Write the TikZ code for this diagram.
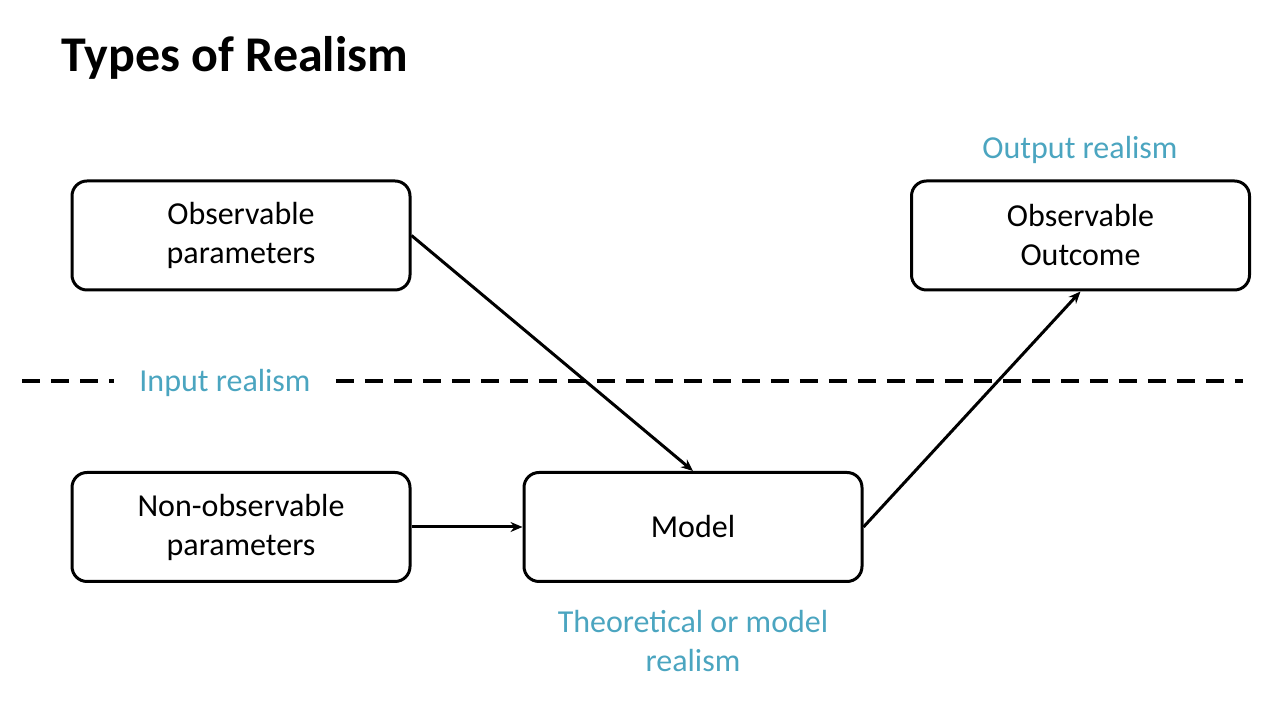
\documentclass[tikz,border=0pt]{standalone}
\usepackage{fontspec}
\setmainfont{Carlito}
\usetikzlibrary{arrows.meta,positioning}
\definecolor{realblue}{RGB}{75,165,192}

\begin{document}
\begin{tikzpicture}[x=1pt,y=1pt,
    stage/.style={draw, line width=3pt, rounded corners=15pt, minimum width=338pt,
        minimum height=109pt, align=center, font=\fontsize{32}{39}\selectfont},
    realism/.style={text=realblue, align=center, font=\fontsize{32}{39}\selectfont},
    flow/.style={line width=3pt, -{Stealth[length=12pt,width=10pt]}},
    split/.style={line width=4pt, dash pattern=on 18pt off 11pt}]
    \useasboundingbox (0,0) rectangle (1286,706);
    \node[anchor=base west, font=\fontsize{50}{58}\selectfont\bfseries] (title) at (58,634) {Types of Realism};
    \node[stage] (obs) at (241,470.5) {Observable\\parameters};
    \node[stage] (nonobs) at (241,179) {Non-observable\\parameters};
    \node[stage, right=111pt of nonobs] (model) {Model};
    \node[stage] (outcome) at (1080.5,470.5) {Observable\\Outcome};
    \node[realism] (outlabel) at (1080,556) {Output realism};
    \node[realism] (theolabel) at (693,65) {Theoretical or model\\realism};
    \node[realism, inner xsep=25pt] (inlabel) at (225,323) {Input realism};
    \coordinate (lstart) at (22,325);
    \coordinate (lend) at (1243,325);
    \draw[split] (lstart) -- (lstart -| inlabel.west);
    \draw[split] (lend -| inlabel.east) -- (lend);
    \draw[flow] (obs.east) -- (model.north);
    \draw[flow] (nonobs.east) -- (model.west);
    \draw[flow] (model.east) -- (outcome.south);
\end{tikzpicture}
\end{document}
